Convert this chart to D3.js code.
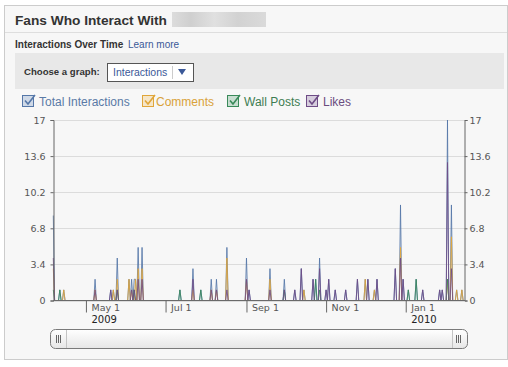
<!DOCTYPE html>
<html><head><meta charset="utf-8">
<script src="https://d3js.org/d3.v7.min.js"></script>
<style>
body{margin:0;background:#fff;}
svg{display:block;font-family:"Liberation Sans",Arial,sans-serif;}
</style></head>
<body><svg id="c" width="508" height="367"></svg>
<script>
// ---- data ----
const seriesNames = ["Total Interactions", "Comments", "Wall Posts", "Likes"];
const seriesColors = ["#5577a8", "#e0a63a", "#3a8a5a", "#6e4c86"];
const legendTextColors = ["#5a7aa6", "#d9a23a", "#3d7d52", "#6a4c7e"];
const firstDay = "2009-04-06";
const lastDay = "2010-02-14";
// days with activity (all other days are 0)
const activeDays = ["2009-04-06","2009-04-11","2009-04-14","2009-05-08","2009-05-20","2009-05-22","2009-05-25",
  "2009-06-03","2009-06-05","2009-06-07","2009-06-08","2009-06-10","2009-06-13","2009-07-12","2009-07-22",
  "2009-07-28","2009-08-05","2009-08-09","2009-08-17","2009-09-01","2009-09-03","2009-09-19","2009-09-30",
  "2009-10-08","2009-10-13","2009-10-15","2009-10-22","2009-10-24","2009-10-27","2009-11-01","2009-11-03",
  "2009-11-08","2009-11-16","2009-11-25","2009-12-01","2009-12-03","2009-12-08","2009-12-10","2009-12-24",
  "2009-12-28","2009-12-30","2010-01-03","2010-01-09","2010-01-14","2010-01-27","2010-01-29","2010-02-02",
  "2010-02-05","2010-02-09","2010-02-13"];
const totalVals =    [8,1,1,2,1,1,4, 2,2,2,2,5,5,1,3, 1,2,2,5,4,1,3,2, 1,3,1,2,2,4,1,2, 1,1,2,2,2,1,2,3, 9,2,1,2,1,1,1,17, 9,1,1];
const commentVals =  [3,0,1,1,0,1,2, 2,1,0,2,3,3,0,1, 0,1,1,4,2,0,2,0, 0,0,1,0,0,0,0,0, 0,0,0,2,0,1,0,0, 5,0,0,0,0,0,0,2, 6,1,1];
const wallVals =     [1,1,0,0,0,0,1, 0,0,1,0,0,0,1,0, 1,0,0,0,0,0,0,1, 0,0,0,0,2,1,0,0, 0,0,0,0,0,0,0,0, 0,0,1,2,0,0,0,2, 0,0,0];
const likeVals =     [4,0,0,1,1,0,1, 0,1,1,0,2,2,0,2, 0,1,1,1,2,1,1,1, 1,3,0,2,0,3,1,2, 1,1,2,0,2,0,2,3, 4,2,0,0,1,1,1,13, 3,0,0];
const yTicks = [0, 3.4, 6.8, 10.2, 13.6, 17];
const yTickLabels = ["0", "3.4", "6.8", "10.2", "13.6", "17"];
const xTickDates = ["2009-05-01","2009-07-01","2009-09-01","2009-11-01","2010-01-01"];
const xTickLabels = ["May 1","Jul 1","Sep 1","Nov 1","Jan 1"];
const yearLabels = ["2009","","","","2010"];

// ---- build table ----
const parse = d3.timeParse("%Y-%m-%d");
const days = d3.timeDay.range(parse(firstDay), d3.timeDay.offset(parse(lastDay), 1));
const lookup = new Map(activeDays.map((d, i) => [d, i]));
const fmt = d3.timeFormat("%Y-%m-%d");
const valueSets = [totalVals, commentVals, wallVals, likeVals];
const table = days.map(day => {
  const i = lookup.get(fmt(day));
  return {date: day, v: valueSets.map(arr => i === undefined ? 0 : arr[i])};
});

const svg = d3.select("#c");
const defs = svg.append("defs");
const g1 = defs.append("linearGradient").attr("id","sb").attr("x1",0).attr("y1",0).attr("x2",0).attr("y2",1);
g1.append("stop").attr("offset","0%").attr("stop-color","#ffffff");
g1.append("stop").attr("offset","100%").attr("stop-color","#e6e6e6");
const g2 = defs.append("linearGradient").attr("id","blur").attr("x1",0).attr("y1",0).attr("x2",1).attr("y2",0);
[["0%","#dcdcdc"],["20%","#cfcfcf"],["45%","#e0e0e0"],["70%","#d2d2d2"],["100%","#dadada"]].forEach(s=>g2.append("stop").attr("offset",s[0]).attr("stop-color",s[1]));

// panel
svg.append("rect").attr("x",4.5).attr("y",5.5).attr("width",503).attr("height",354)
  .attr("fill","#f7f7f7").attr("stroke","#cccccc");
svg.append("line").attr("x1",5).attr("x2",507).attr("y1",32.5).attr("y2",32.5).attr("stroke","#dedede");

svg.append("text").attr("x",15).attr("y",25).attr("font-size",13.7).attr("font-weight","bold")
  .attr("fill","#333").text("Fans Who Interact With");
svg.append("rect").attr("x",172).attr("y",12).attr("width",94).attr("height",15).attr("fill","url(#blur)");

svg.append("text").attr("x",15).attr("y",48).attr("font-size",10).attr("font-weight","bold")
  .attr("fill","#333").text("Interactions Over Time");
svg.append("text").attr("x",128).attr("y",48).attr("font-size",10)
  .attr("fill","#3b5998").text("Learn more");

// graph chooser bar
svg.append("rect").attr("x",15).attr("y",53).attr("width",489).attr("height",36).attr("fill","#e8e8e8");
svg.append("text").attr("x",24).attr("y",75).attr("font-size",9.6).attr("font-weight","bold")
  .attr("fill","#333").text("Choose a graph:");
svg.append("rect").attr("x",107.5).attr("y",63.5).attr("width",86).attr("height",18).attr("fill","#fff").attr("stroke","#555");
svg.append("text").attr("x",113).attr("y",75.5).attr("font-size",10.5).attr("fill","#3b5998").text("Interactions");
svg.append("line").attr("x1",172.5).attr("x2",172.5).attr("y1",66).attr("y2",79).attr("stroke","#ccc");
svg.append("path").attr("d","M178,69 L186,69 L182,75 Z").attr("fill","#3b5998");

// legend
const legendBoxX = [22, 142, 227, 306];
const legendTextX = [39, 156, 244, 323];
seriesNames.forEach((n, i) => {
  const bx = legendBoxX[i];
  svg.append("rect").attr("x",bx+0.5).attr("y",95.5).attr("width",11).attr("height",11)
    .attr("fill", d3.interpolateRgb(seriesColors[i], "#fff")(0.72)).attr("stroke",seriesColors[i]);
  svg.append("path").attr("d",`M${bx+3},${100.5} L${bx+6},${104} L${bx+13},${95}`)
    .attr("fill","none").attr("stroke",seriesColors[i]).attr("stroke-width",1.6);
  svg.append("text").attr("x",legendTextX[i]).attr("y",106).attr("font-size",12).attr("fill",legendTextColors[i]).text(n);
});

// scales
const x = d3.scaleTime().domain([parse(firstDay), new Date(2010,1,14,21)]).range([53.3, 464.3]);
const y = d3.scaleLinear().domain([0, 17]).range([300.5, 120]);

// gridlines
svg.append("g").selectAll("line").data(yTicks).join("line")
  .attr("x1",53).attr("x2",464).attr("y1",d=>Math.round(y(d))+0.5).attr("y2",d=>Math.round(y(d))+0.5)
  .attr("stroke","#dcdcdc");

// lines
const line = i => d3.line().x(d=>x(d.date)).y(d=>y(d.v[i]));
[0,1,2,3].forEach(i => {
  svg.append("path").datum(table).attr("d", line(i)).attr("fill","none")
    .attr("stroke", seriesColors[i]).attr("stroke-width",1).attr("stroke-opacity",0.85);
});

// axes
const yl = d3.axisLeft(y).tickValues(yTicks).tickFormat((d,i)=>yTickLabels[i]).tickSize(3).tickPadding(5);
const yr = d3.axisRight(y).tickValues(yTicks).tickFormat((d,i)=>yTickLabels[i]).tickSize(3).tickPadding(2);
const ga = svg.append("g").attr("transform","translate(53.5,0)").call(yl);
const gb = svg.append("g").attr("transform","translate(464.5,0)").call(yr);
[ga,gb].forEach(g=>{
  g.select(".domain").attr("stroke","#666");
  g.selectAll(".tick line").attr("stroke","#666");
  g.selectAll("text").attr("fill","#555").attr("font-size",9.5).attr("font-family","DejaVu Sans");
});
svg.append("line").attr("x1",53).attr("x2",465).attr("y1",300.5).attr("y2",300.5).attr("stroke","#6a6a6a");

const xa = d3.axisBottom(x).tickValues(xTickDates.map(parse)).tickFormat((d,i)=>xTickLabels[i]).tickSize(12).tickSizeOuter(0);
const gx = svg.append("g").attr("transform","translate(0,300.5)").call(xa);
gx.select(".domain").remove();
gx.selectAll(".tick line").attr("stroke","#666");
gx.selectAll(".tick text").attr("text-anchor","start").attr("x",5).attr("y",4)
  .attr("fill","#555").attr("font-size",9.5).attr("font-family","DejaVu Sans");
gx.selectAll(".tick").append("text").attr("x",5).attr("y",15.5).attr("dy","0.71em")
  .attr("fill","#222").attr("font-size",10).attr("font-family","DejaVu Sans").attr("text-anchor","start")
  .text((d,i)=>yearLabels[i]);

// scrollbar
svg.append("rect").attr("x",50.5).attr("y",329.5).attr("width",417).attr("height",19).attr("rx",5)
  .attr("fill","url(#sb)").attr("stroke","#7a7a7a");
[66.5, 452.5].forEach(xx=>svg.append("line").attr("x1",xx).attr("x2",xx).attr("y1",330).attr("y2",348).attr("stroke","#c4c4c4"));
[56.5,58.5,60.5, 456.5,458.5,460.5].forEach(xx=>svg.append("line").attr("x1",xx).attr("x2",xx).attr("y1",335).attr("y2",343).attr("stroke","#666"));
</script></body></html>
